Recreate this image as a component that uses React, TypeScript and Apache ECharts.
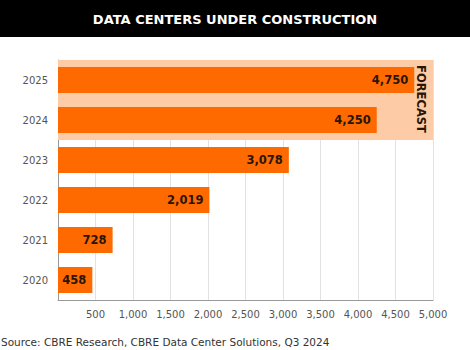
import React, { useEffect, useRef } from "react";
import * as echarts from "echarts";

const years = ["2020", "2021", "2022", "2023", "2024", "2025"];
const values = [458, 728, 2019, 3078, 4250, 4750];
const forecast = [null, null, null, null, 5000, 5000];
const xTicks = [500, 1000, 1500, 2000, 2500, 3000, 3500, 4000, 4500, 5000];
const title = "DATA CENTERS UNDER CONSTRUCTION";
const source = "Source: CBRE Research, CBRE Data Center Solutions, Q3 2024";

export default function App() {
  const ref = useRef<HTMLDivElement>(null);
  useEffect(() => {
    document.body.style.margin = "0";
    const chart = echarts.init(ref.current!, null, { renderer: "svg" });
    const font = "DejaVu Sans, Verdana, sans-serif";
    chart.setOption({
      animation: false,
      backgroundColor: "#ffffff",
      textStyle: { fontFamily: font },
      grid: { left: 58, right: 37, top: 60, bottom: 50, containLabel: false },
      xAxis: {
        type: "value",
        min: 0,
        max: 5000,
        interval: 500,
        axisLine: { show: true, lineStyle: { color: "#999" } },
        axisTick: { show: false },
        splitLine: { show: true, lineStyle: { color: "#e2e2e2" } },
        axisLabel: {
          showMinLabel: false,
          color: "#555",
          fontSize: 10,
          fontFamily: font,
          margin: 9,
          formatter: (v: number) => (xTicks.includes(v) ? v.toLocaleString("en-US") : ""),
        },
      },
      yAxis: [
        {
          type: "category",
          data: years,
          axisLine: { show: true, lineStyle: { color: "#999" } },
          axisTick: { show: false },
          axisLabel: { color: "#555", fontSize: 10, fontFamily: font, margin: 10 },
        },
        {
          type: "category",
          data: years,
          show: false,
          position: "left",
        },
      ],
      series: [
        {
          name: "Forecast",
          type: "bar",
          yAxisIndex: 1,
          data: forecast,
          barWidth: "100%",
          itemStyle: { color: "#FDCBA6" },
          silent: true,
          z: 1,
        },
        {
          name: "Data centers",
          type: "bar",
          yAxisIndex: 0,
          data: values,
          barWidth: "65%",
          itemStyle: { color: "#FF6A00" },
          z: 3,
          label: {
            show: true,
            position: "insideRight",
            distance: 6,
            color: "#2a1505",
            fontSize: 11.5,
            fontWeight: "bold",
            fontFamily: font,
            formatter: (p: any) => Number(p.value).toLocaleString("en-US"),
          },
        },
      ],
      graphic: [
        {
          type: "rect",
          left: 0,
          top: 0,
          shape: { width: 470, height: 37 },
          style: { fill: "#000" },
        },
        {
          type: "text",
          x: 235,
          y: 19,
          style: {
            text: title,
            fill: "#fff",
            font: `bold 13px ${font}`,
            align: "center",
            verticalAlign: "middle",
          },
        },
        {
          type: "text",
          x: 421,
          y: 99,
          rotation: -Math.PI / 2,
          z: 10,
          style: {
            text: "FORECAST",
            fill: "#2a1505",
            font: `bold 11.5px ${font}`,
            align: "center",
            verticalAlign: "middle",
          },
        },
        {
          type: "text",
          x: 1,
          y: 342,
          style: {
            text: source,
            fill: "#333",
            font: `10.5px ${font}`,
            align: "left",
            verticalAlign: "middle",
          },
        },
      ],
    });
    return () => chart.dispose();
  }, []);
  return <div ref={ref} style={{ width: 470, height: 350 }} />;
}
